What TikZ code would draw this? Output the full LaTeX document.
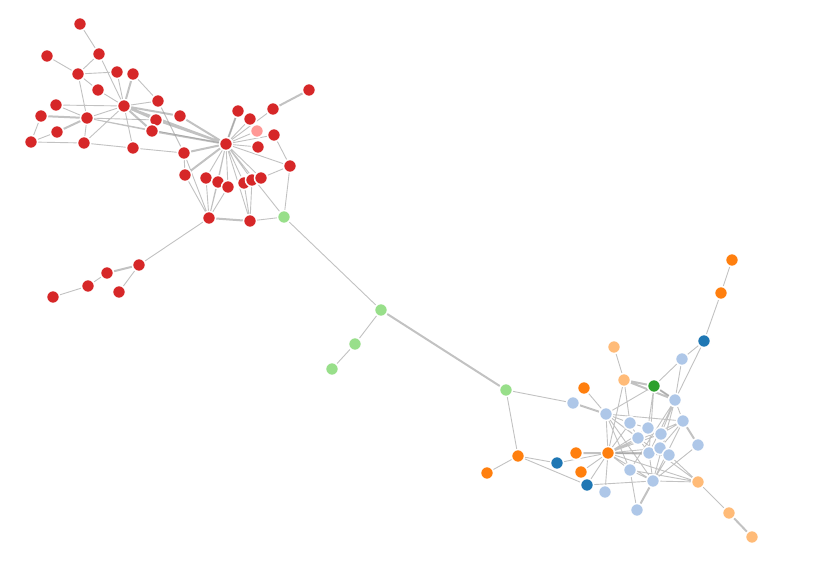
\documentclass[tikz,border=0pt]{standalone}
\usepackage{xcolor}
\usepackage{tikz}
\definecolor{cRed}{HTML}{D62728}
\definecolor{cPink}{HTML}{FF9896}
\definecolor{cLGreen}{HTML}{98DF8A}
\definecolor{cGreen}{HTML}{2CA02C}
\definecolor{cOrange}{HTML}{FF7F0E}
\definecolor{cPeach}{HTML}{FFBB78}
\definecolor{cDBlue}{HTML}{1F77B4}
\definecolor{cLBlue}{HTML}{AEC7E8}
\definecolor{cEdge}{HTML}{999999}
\pgfdeclarelayer{edges}
\pgfsetlayers{edges,main}
\tikzset{
	dot/.style={circle, draw=white, line width=1.5pt, minimum size=13pt, inner sep=0pt},
	rd/.style={dot, fill=cRed},
	pk/.style={dot, fill=cPink},
	lg/.style={dot, fill=cLGreen},
	gn/.style={dot, fill=cGreen},
	og/.style={dot, fill=cOrange},
	pe/.style={dot, fill=cPeach},
	db/.style={dot, fill=cDBlue},
	lb/.style={dot, fill=cLBlue},
	ln/.style={draw=cEdge, draw opacity=0.6, line width=0.9pt},
	lnw/.style={draw=cEdge, draw opacity=0.6, line width=2pt},
	lnww/.style={draw=cEdge, draw opacity=0.6, line width=3pt}
}
\begin{document}
\begin{tikzpicture}[x=1pt, y=-1pt]
				\useasboundingbox (0,0) rectangle (815,564);
				% red group
				\node[rd] (r1) at (80,24) {};
				\node[rd] (r2) at (99,54) {};
				\node[rd] (r3) at (47,56) {};
				\node[rd] (r4) at (78,74) {};
				\node[rd] (r5) at (117,72) {};
				\node[rd] (r6) at (133,74) {};
				\node[rd] (r7) at (98,90) {};
				\node[rd] (r8) at (124,106) {};
				\node[rd] (r9) at (158,101) {};
				\node[rd] (r10) at (56,105) {};
				\node[rd] (r11) at (41,116) {};
				\node[rd] (r12) at (87,118) {};
				\node[rd] (r13) at (156,120) {};
				\node[rd] (r14) at (180,116) {};
				\node[rd] (r15) at (152,131) {};
				\node[rd] (r16) at (57,132) {};
				\node[rd] (r17) at (31,142) {};
				\node[rd] (r18) at (84,143) {};
				\node[rd] (r19) at (133,148) {};
				\node[rd] (r20) at (184,153) {};
				\node[rd] (r21) at (226,144) {};
				\node[rd] (r22) at (238,111) {};
				\node[rd] (r23) at (250,119) {};
				\node[rd] (r24) at (273,109) {};
				\node[rd] (r25) at (309,90) {};
				\node[pk] (r26) at (257,131) {};
				\node[rd] (r27) at (274,135) {};
				\node[rd] (r28) at (258,147) {};
				\node[rd] (r29) at (290,166) {};
				\node[rd] (r30) at (185,175) {};
				\node[rd] (r31) at (206,178) {};
				\node[rd] (r32) at (218,182) {};
				\node[rd] (r33) at (228,187) {};
				\node[rd] (r34) at (244,183) {};
				\node[rd] (r35) at (252,180) {};
				\node[rd] (r36) at (261,178) {};
				\node[rd] (r37) at (209,218) {};
				\node[rd] (r38) at (250,221) {};
				\node[rd] (r39) at (139,265) {};
				\node[rd] (r40) at (107,273) {};
				\node[rd] (r41) at (88,286) {};
				\node[rd] (r42) at (119,292) {};
				\node[rd] (r43) at (53,297) {};
				% light green bridge
				\node[lg] (g1) at (284,217) {};
				\node[lg] (g2) at (381,310) {};
				\node[lg] (g3) at (355,344) {};
				\node[lg] (g4) at (332,369) {};
				\node[lg] (g5) at (506,390) {};
				% blue group
				\node[og] (o1) at (732,260) {};
				\node[og] (o2) at (721,293) {};
				\node[db] (d1) at (704,341) {};
				\node[lb] (lb1) at (682,359) {};
				\node[pe] (p1) at (614,347) {};
				\node[pe] (p2) at (624,380) {};
				\node[gn] (gr1) at (654,386) {};
				\node[og] (o3) at (584,388) {};
				\node[lb] (lb2) at (573,403) {};
				\node[lb] (lb3) at (606,414) {};
				\node[lb] (lb4) at (675,400) {};
				\node[lb] (lb5) at (683,421) {};
				\node[lb] (lb6) at (630,423) {};
				\node[lb] (lb7) at (648,428) {};
				\node[lb] (lb8) at (661,434) {};
				\node[lb] (lb9) at (638,438) {};
				\node[lb] (lb10) at (698,445) {};
				\node[lb] (lb11) at (649,453) {};
				\node[lb] (lb12) at (660,448) {};
				\node[lb] (lb13) at (669,455) {};
				\node[og] (o4) at (608,453) {};
				\node[og] (o5) at (576,453) {};
				\node[db] (d2) at (557,463) {};
				\node[og] (o6) at (518,456) {};
				\node[og] (o7) at (487,473) {};
				\node[og] (o8) at (581,472) {};
				\node[lb] (lb14) at (630,470) {};
				\node[db] (d3) at (587,485) {};
				\node[lb] (lb15) at (605,492) {};
				\node[lb] (lb16) at (653,481) {};
				\node[lb] (lb17) at (637,510) {};
				\node[pe] (p3) at (698,482) {};
				\node[pe] (p4) at (729,513) {};
				\node[pe] (p5) at (752,537) {};
				\begin{pgfonlayer}{edges}
				\draw[ln] (r1) -- (r2) (r3) -- (r4) (r2) -- (r4) (r4) -- (r5) (r2) -- (r8) (r4) -- (r7)
					(r7) -- (r8) (r5) -- (r8) (r6) -- (r9) (r4) -- (r12) (r10) -- (r12) (r11) -- (r17)
					(r16) -- (r17) (r17) -- (r18) (r18) -- (r12) (r18) -- (r8) (r8) -- (r19) (r18) -- (r19)
					(r19) -- (r20) (r9) -- (r20) (r12) -- (r13) (r12) -- (r15) (r8) -- (r12) (r12) -- (r21)
					(r10) -- (r8) (r8) -- (r9);
				\draw[lnw] (r6) -- (r8) (r11) -- (r12) (r16) -- (r12) (r8) -- (r13) (r8) -- (r15)
					(r8) -- (r14) (r8) -- (r21) (r13) -- (r21) (r15) -- (r21) (r14) -- (r21) (r20) -- (r21);
				\draw[ln] (r21) -- (r22) (r21) -- (r23) (r21) -- (r24) (r21) -- (r26) (r21) -- (r27)
					(r21) -- (r28) (r21) -- (r29) (r27) -- (r29) (r29) -- (g1) (r29) -- (r36) (r21) -- (r31)
					(r21) -- (r32) (r21) -- (r33) (r21) -- (r34) (r21) -- (r35) (r21) -- (r36) (r21) -- (r37)
					(r21) -- (r38) (r21) -- (g1) (r20) -- (r37) (r30) -- (r37) (r31) -- (r37) (r32) -- (r37)
					(r33) -- (r37) (r38) -- (g1) (r34) -- (r38) (r35) -- (r38) (r37) -- (r39) (r20) -- (r30)
					(r40) -- (r41) (r41) -- (r43) (r39) -- (r42);
				\draw[lnw] (r24) -- (r25) (r21) -- (r30) (r21) -- (r22) (r37) -- (r38) (r39) -- (r40);
				\draw[ln] (g1) -- (g2) (g2) -- (g3) (g3) -- (g4) (g5) -- (o6) (g5) -- (lb2);
				\draw[lnw] (g2) -- (g5);
				\draw[ln] (o1) -- (o2) (o2) -- (d1) (d1) -- (lb1) (d1) -- (lb4) (lb1) -- (lb4) (lb1) -- (gr1)
					(p1) -- (p2) (p2) -- (o4) (p2) -- (lb6) (gr1) -- (lb3) (gr1) -- (lb4) (gr1) -- (lb7)
					(gr1) -- (lb11) (o3) -- (lb3) (lb3) -- (o4) (lb3) -- (lb5) (lb3) -- (lb6) (lb3) -- (lb9)
					(lb3) -- (lb14) (lb3) -- (lb16) (lb3) -- (p3) (lb4) -- (lb5) (lb4) -- (lb8) (lb4) -- (lb11)
					(lb4) -- (lb14) (lb4) -- (lb16) (lb5) -- (lb8) (lb5) -- (lb12) (lb5) -- (lb16) (lb5) -- (o4)
					(lb6) -- (lb7) (lb6) -- (o4) (lb7) -- (lb8) (lb7) -- (o4) (lb8) -- (lb12) (lb9) -- (lb11)
					(lb9) -- (o4) (lb11) -- (lb12) (lb12) -- (lb13) (lb13) -- (o4) (o4) -- (d2) (o4) -- (o8)
					(o4) -- (d3) (o4) -- (lb15) (o4) -- (lb14) (o4) -- (lb16) (o4) -- (lb12) (o4) -- (p3)
					(lb14) -- (lb16) (lb14) -- (lb17) (lb16) -- (p3) (lb10) -- (lb16) (lb13) -- (lb16)
					(lb11) -- (lb16) (p3) -- (p4) (p3) -- (lb14) (p3) -- (lb13) (o6) -- (d2) (o6) -- (d3)
					(o6) -- (o7) (d3) -- (lb16) (lb6) -- (lb9) (lb7) -- (lb9) (lb8) -- (o4);
				\draw[lnw] (p2) -- (gr1) (p2) -- (lb4) (lb2) -- (lb3) (lb5) -- (lb10) (lb11) -- (o4)
					(o4) -- (o5) (lb16) -- (lb17) (p4) -- (p5) (gr1) -- (lb4);
				\end{pgfonlayer}
			\end{tikzpicture}
\end{document}
